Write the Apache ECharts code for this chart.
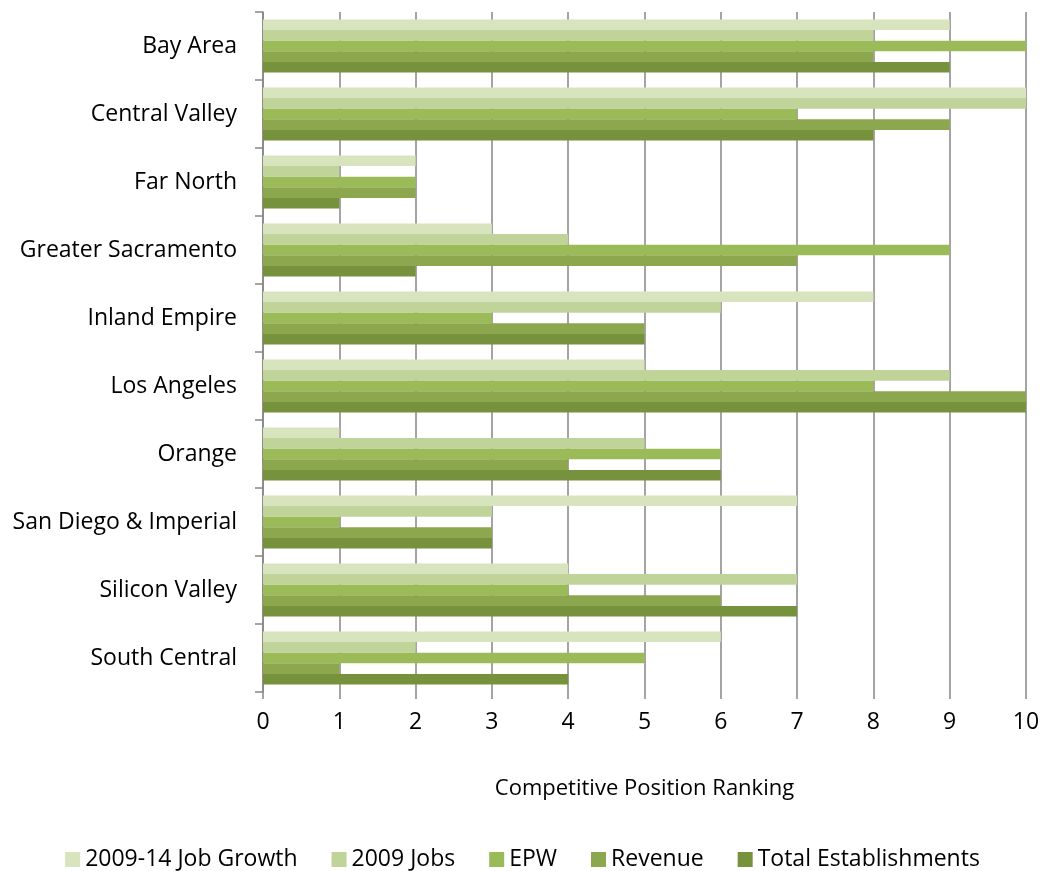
<!DOCTYPE html>
<html>
<head>
<meta charset="utf-8">
<script src="https://cdn.jsdelivr.net/npm/echarts@6/dist/echarts.min.js"></script>
<style>
html,body{margin:0;padding:0;background:#fff;}
#chart{width:1045px;height:871px;}
</style>
</head>
<body>
<div id="chart"></div>
<script>
const categories = ["Bay Area","Central Valley","Far North","Greater Sacramento","Inland Empire","Los Angeles","Orange","San Diego & Imperial","Silicon Valley","South Central"];
const seriesNames = ["2009-14 Job Growth","2009 Jobs","EPW","Revenue","Total Establishments"];
const jobGrowth = [9,10,2,3,8,5,1,7,4,6];
const jobs2009 = [8,10,1,4,6,9,5,3,7,2];
const epw = [10,7,2,9,3,8,6,1,4,5];
const revenue = [8,9,2,7,5,10,4,3,6,1];
const totalEst = [9,8,1,2,5,10,6,3,7,4];
const xTicks = [0,1,2,3,4,5,6,7,8,9,10];
const colors = ["#d7e4bd","#c0d49a","#9bbb59","#8da74f","#76923c"];

const dataSets = [jobGrowth, jobs2009, epw, revenue, totalEst];
const font = "Open Sans";
const fs = 23;
const chart = echarts.init(document.getElementById('chart'));
chart.setOption({
  animation:false,
  textStyle:{fontFamily:font},
  grid:{left:263,right:19,top:12,bottom:179,containLabel:false},
  legend:{
    top:843, left:'center', itemWidth:15, itemHeight:15, itemGap:34,
    icon:'rect',
    textStyle:{fontSize:fs,color:'#000',fontFamily:font},
    data:seriesNames
  },
  xAxis:{
    type:'value', min:xTicks[0], max:xTicks[xTicks.length-1], interval:1,
    name:'Competitive Position Ranking', nameLocation:'middle', nameGap:86,
    nameTextStyle:{fontSize:fs-1,color:'#000',fontFamily:font},
    axisLine:{show:false},
    axisTick:{show:true,length:7,lineStyle:{color:'#868686',width:1.5}},
    axisLabel:{fontSize:fs,color:'#000',margin:19,fontFamily:font},
    splitLine:{show:true,lineStyle:{color:'#868686',width:1.5}}
  },
  yAxis:{
    type:'category', data:categories, inverse:true,
    axisLine:{show:true,lineStyle:{color:'#868686',width:1.5}},
    axisTick:{show:true,length:8,lineStyle:{color:'#868686',width:1.5}},
    axisLabel:{fontSize:fs,color:'#000',margin:26,fontFamily:font}
  },
  series: seriesNames.map((n,i)=>({
    name:n, type:'bar', data:dataSets[i], barGap:'0%', barCategoryGap:'22%',
    itemStyle:{color:colors[i]}
  }))
});
</script>
</body>
</html>
